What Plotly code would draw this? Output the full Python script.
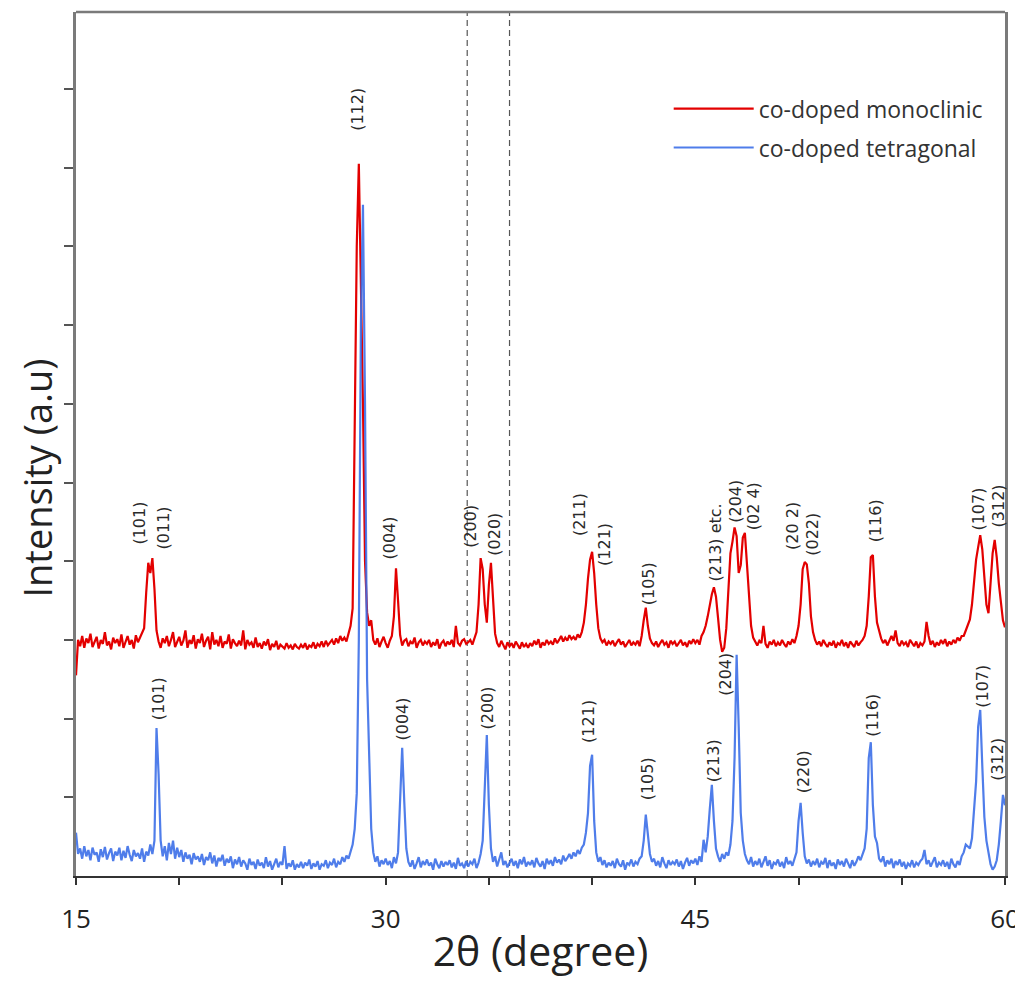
import plotly.graph_objects as go

# 2-theta grid (degrees), 0.1 deg step from 15.0 to 60.0
two_theta = [round(15 + 0.1 * i, 1) for i in range(451)]

# co-doped monoclinic intensity (a.u., offset trace), one row per degree
mono_rows = [
    [255, 300, 292, 305, 290, 302, 296, 308, 291, 299],  # 15
    [304, 289, 300, 295, 310, 293, 298, 288, 303, 296],  # 16
    [301, 292, 307, 290, 299, 305, 294, 300, 289, 306],  # 17
    [297, 303, 308, 315, 360, 398, 385, 404, 365, 312],  # 18
    [298, 290, 302, 296, 305, 292, 300, 310, 291, 298],  # 19
    [304, 293, 299, 312, 290, 300, 295, 306, 289, 301],  # 20
    [296, 308, 291, 299, 304, 288, 310, 294, 300, 292],  # 21
    [305, 290, 298, 295, 307, 289, 301, 296, 292, 299],  # 22
    [293, 312, 288, 300, 294, 297, 290, 303, 291, 296],  # 23
    [289, 298, 293, 301, 287, 295, 291, 299, 288, 294],  # 24
    [292, 289, 296, 290, 293, 288, 295, 291, 289, 294],  # 25
    [290, 296, 288, 293, 291, 297, 289, 295, 292, 298],  # 26
    [291, 299, 293, 297, 300, 294, 302, 296, 305, 299],  # 27
    [303, 298, 308, 318, 340, 550, 800, 905, 760, 600],  # 28
    [400, 335, 318, 325, 300, 294, 302, 291, 298, 304],  # 29
    [296, 290, 299, 305, 330, 391, 350, 306, 293, 299],  # 30
    [301, 292, 298, 295, 303, 290, 297, 300, 293, 298],  # 31
    [295, 300, 291, 297, 293, 301, 289, 296, 299, 292],  # 32
    [298, 294, 300, 291, 318, 296, 293, 299, 301, 295],  # 33
    [297, 300, 294, 302, 310, 345, 404, 390, 345, 322],  # 34
    [370, 398, 355, 308, 296, 291, 299, 294, 288, 297],  # 35
    [292, 296, 290, 298, 293, 289, 297, 291, 295, 290],  # 36
    [296, 292, 299, 294, 301, 290, 297, 293, 300, 295],  # 37
    [298, 294, 302, 296, 300, 305, 298, 303, 299, 306],  # 38
    [301, 304, 300, 307, 303, 310, 322, 345, 378, 402],  # 39
    [412, 385, 345, 315, 302, 297, 300, 293, 298, 295],  # 40
    [299, 292, 297, 301, 294, 298, 291, 296, 300, 293],  # 41
    [297, 294, 299, 292, 305, 325, 341, 318, 302, 296],  # 42
    [293, 298, 291, 296, 300, 294, 297, 290, 299, 295],  # 43
    [298, 292, 296, 300, 293, 297, 291, 299, 295, 301],  # 44
    [296, 300, 294, 305, 310, 318, 330, 345, 358, 367],  # 45
    [355, 328, 300, 285, 290, 315, 360, 410, 425, 443],  # 46
    [432, 385, 395, 430, 436, 395, 345, 318, 303, 297],  # 47
    [293, 299, 296, 318, 295, 290, 298, 294, 300, 292],  # 48
    [297, 293, 300, 295, 291, 298, 294, 301, 296, 305],  # 49
    [318, 345, 390, 399, 396, 372, 330, 310, 300, 294],  # 50
    [298, 292, 300, 295, 291, 297, 293, 299, 290, 296],  # 51
    [294, 300, 292, 297, 290, 298, 295, 291, 299, 293],  # 52
    [297, 300, 305, 318, 355, 405, 408, 355, 322, 310],  # 53
    [302, 296, 300, 293, 298, 305, 299, 312, 296, 292],  # 54
    [299, 294, 297, 291, 300, 295, 292, 298, 290, 296],  # 55
    [293, 298, 323, 305, 294, 299, 291, 297, 293, 300],  # 56
    [295, 301, 292, 298, 294, 300, 296, 303, 299, 305],  # 57
    [305, 312, 318, 326, 345, 375, 402, 418, 433, 415],  # 58
    [380, 345, 334, 370, 410, 427, 405, 372, 345, 325],  # 59
    [316],                                               # 60
]

# co-doped tetragonal intensity (a.u.), one row per degree
tetra_rows = [
    [55, 28, 35, 22, 38, 25, 33, 20, 36, 27],            # 15
    [30, 18, 34, 24, 37, 21, 29, 35, 19, 31],            # 16
    [26, 36, 20, 32, 23, 38, 27, 19, 33, 25],            # 17
    [29, 22, 35, 18, 31, 26, 40, 28, 45, 188],           # 18
    [130, 45, 25, 38, 20, 42, 28, 45, 22, 36],           # 19
    [24, 33, 18, 30, 22, 27, 15, 29, 21, 25],            # 20
    [18, 28, 14, 24, 20, 30, 16, 26, 12, 23],            # 21
    [19, 27, 13, 22, 17, 25, 10, 21, 15, 24],            # 22
    [12, 20, 16, 8, 22, 14, 18, 9, 21, 13],              # 23
    [17, 10, 24, 12, 19, 8, 15, 22, 11, 18],             # 24
    [14, 38, 9, 16, 12, 20, 8, 15, 11, 18],              # 25
    [10, 17, 13, 21, 9, 16, 12, 19, 8, 15],              # 26
    [13, 20, 10, 17, 14, 22, 11, 18, 15, 24],            # 27
    [18, 26, 22, 30, 40, 60, 105, 300, 700, 853],        # 28
    [600, 250, 140, 60, 30, 18, 25, 12, 20, 15],         # 29
    [22, 14, 19, 10, 24, 16, 30, 110, 163, 95],          # 30
    [35, 18, 12, 20, 9, 16, 24, 11, 19, 14],             # 31
    [21, 13, 17, 8, 22, 15, 10, 19, 12, 18],             # 32
    [14, 20, 11, 17, 9, 23, 13, 16, 10, 19],             # 33
    [12, 18, 15, 22, 10, 17, 28, 45, 110, 179],          # 34
    [90, 35, 18, 25, 12, 20, 30, 14, 19, 11],            # 35
    [17, 22, 13, 19, 10, 21, 15, 24, 12, 18],            # 36
    [14, 20, 11, 23, 16, 12, 19, 9, 22, 15],             # 37
    [20, 13, 24, 17, 21, 15, 26, 19, 23, 28],            # 38
    [22, 30, 25, 33, 28, 36, 40, 55, 80, 140],           # 39
    [154, 70, 30, 18, 24, 14, 20, 11, 17, 13],           # 40
    [19, 10, 22, 15, 12, 20, 8, 17, 14, 21],             # 41
    [12, 18, 15, 22, 25, 45, 78, 50, 28, 18],            # 42
    [22, 13, 19, 11, 24, 16, 10, 20, 14, 18],            # 43
    [15, 21, 12, 19, 9, 17, 23, 13, 20, 16],             # 44
    [22, 14, 25, 18, 46, 30, 50, 85, 116, 70],           # 45
    [35, 25, 18, 28, 22, 30, 26, 40, 70, 150],           # 46
    [281, 190, 80, 45, 28, 20, 15, 24, 12, 19],          # 47
    [14, 22, 11, 18, 25, 13, 20, 9, 17, 15],             # 48
    [21, 12, 18, 10, 24, 15, 19, 13, 22, 30],            # 49
    [70, 93, 55, 25, 16, 21, 12, 19, 14, 22],            # 50
    [11, 18, 15, 23, 10, 20, 13, 17, 9, 21],             # 51
    [14, 19, 12, 22, 16, 10, 20, 13, 18, 25],            # 52
    [20, 28, 35, 60, 150, 170, 90, 50, 42, 22],          # 53
    [18, 25, 12, 20, 15, 22, 10, 19, 14, 21],            # 54
    [12, 18, 9, 16, 13, 20, 11, 17, 14, 19],             # 55
    [22, 33, 15, 20, 12, 18, 24, 11, 17, 14],            # 56
    [20, 12, 18, 9, 22, 15, 11, 19, 14, 25],             # 57
    [30, 40, 38, 35, 48, 80, 120, 190, 211, 140],        # 58
    [75, 45, 30, 15, 8, 12, 20, 40, 70, 103],            # 59
    [90],                                                # 60
]

# peak (hkl) labels
mono_labels = ["(101)", "(011)", "(112)", "(004)", "(200)", "(020)", "(211)", "(121)",
               "(105)", "(213) etc.", "(204)", "(02 4)", "(20 2)", "(022)", "(116)",
               "(107)", "(312)"]
mono_label_x = [18.1, 19.22, 28.62, 30.21, 34.14, 35.3, 39.42, 40.63, 42.71, 45.96,
                46.93, 47.8, 49.74, 50.66, 53.71, 58.7, 59.67]
mono_label_y = [418, 412, 944, 399, 414, 404, 429, 391, 341, 372, 446, 437, 412, 404,
                421, 436, 440]

tetra_labels = ["(101)", "(004)", "(200)", "(121)", "(105)", "(213)", "(204)", "(220)",
                "(116)", "(107)", "(312)"]
tetra_label_x = [18.97, 30.84, 34.91, 39.85, 42.66, 45.86, 46.49, 50.22, 53.57, 58.9, 59.62]
tetra_label_y = [196, 169, 183, 166, 93, 116, 226, 102, 174, 211, 118]

# dashed guide lines (2-theta)
guide_lines = [33.95, 36.0]

# axis ticks
x_tick_vals = [15, 20, 25, 30, 35, 40, 45, 50, 55, 60]
x_tick_text = ["15", "", "", "30", "", "", "45", "", "", "60"]
y_tick_vals = [100, 200, 300, 400, 500, 600, 700, 800, 900, 1000]

mono = [v for row in mono_rows for v in row]
tetra = [v for row in tetra_rows for v in row]

RED = "#e30000"
BLUE = "#3c6fe8"
FONT = "Open Sans"

fig = go.Figure()
fig.add_trace(go.Scatter(x=two_theta, y=mono, mode="lines", name="co-doped monoclinic",
                         line=dict(color=RED, width=2.2), legendgroup="m"))
fig.add_trace(go.Scatter(x=two_theta, y=tetra, mode="lines", name="co-doped tetragonal",
                         line=dict(color=BLUE, width=2.2), opacity=0.9, legendgroup="t"))

for txt, x, y in zip(mono_labels, mono_label_x, mono_label_y):
    fig.add_annotation(x=x, y=y, text=txt, textangle=-90, showarrow=False,
                       xanchor="center", yanchor="bottom",
                       font=dict(family="DejaVu Sans", size=16, color="#2a2a2a"))
for txt, x, y in zip(tetra_labels, tetra_label_x, tetra_label_y):
    fig.add_annotation(x=x, y=y, text=txt, textangle=-90, showarrow=False,
                       xanchor="center", yanchor="bottom",
                       font=dict(family="DejaVu Sans", size=16, color="#2a2a2a"))

# y-axis title (placed like the original, slightly below the axis middle)
fig.add_annotation(text="Intensity (a.u)", xref="paper", yref="paper", x=0, y=0.46,
                   xshift=-39, xanchor="center", yanchor="middle", textangle=-90,
                   showarrow=False, borderpad=0,
                   font=dict(family=FONT, size=38, color="#222"))

for gx in guide_lines:
    fig.add_shape(type="line", xref="x", yref="paper", x0=gx, x1=gx, y0=0, y1=1,
                  line=dict(color="#555", width=1.2, dash="6px,4px"), layer="below")

# top frame line
fig.add_shape(type="line", xref="paper", yref="paper", x0=0, x1=1, y0=1, y1=1,
              line=dict(color="#7a7a7a", width=2.5))

fig.update_layout(
    width=1015, height=974,
    margin=dict(l=68, r=18, t=4, b=106),
    paper_bgcolor="white", plot_bgcolor="white",
    font=dict(family=FONT, color="#222"),
    legend=dict(x=0.638, y=0.913, xanchor="left", yanchor="top",
                font=dict(family=FONT, size=23, color="#333"),
                bgcolor="rgba(0,0,0,0)", tracegroupgap=6, itemwidth=80),
    xaxis=dict(range=[15, 60], tickvals=x_tick_vals, ticktext=x_tick_text,
               ticks="outside", ticklen=7, tickwidth=1.5, tickcolor="#333",
               showline=True, linecolor="#333", linewidth=2, mirror=False,
               showgrid=False, zeroline=False, automargin=False,
               tickfont=dict(family=FONT, size=26, color="#222"),
               ticklabelstandoff=12,
               title=dict(text="2θ (degree)", font=dict(family=FONT, size=41, color="#222"),
                          standoff=2)),
    yaxis=dict(range=[0, 1098], tickvals=y_tick_vals, showticklabels=False,
               ticks="outside", ticklen=9, tickwidth=1.5, tickcolor="#555",
               showline=True, linecolor="#7a7a7a", linewidth=2.5, mirror=True,
               showgrid=False, zeroline=False, automargin=False),
)

fig.write_html("out.html")
